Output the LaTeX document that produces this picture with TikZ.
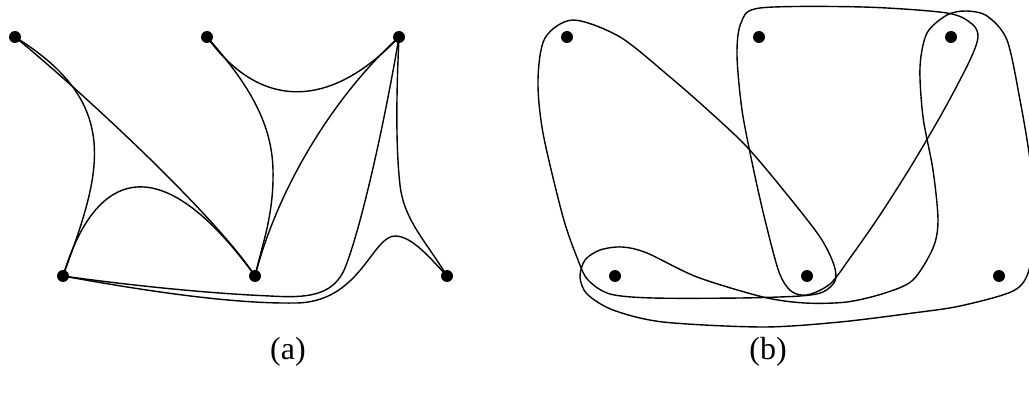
\documentclass[tikz,border=0pt]{standalone}
\usepackage{fontspec}
\setmainfont{Liberation Serif}
\begin{document}
\begin{tikzpicture}[x=1pt,y=-1pt,
  dot/.style={circle,fill=black,inner sep=0pt,minimum size=12pt},
  edge/.style={line width=1.4pt},
  lbl/.style={font=\fontsize{32}{36}\selectfont}]
\useasboundingbox (0,0) rectangle (1029,393);
% (a) vertices
\node[dot] (a1) at (15,37) {};
\node[dot] (a2) at (207,37) {};
\node[dot] (a3) at (399,37) {};
\node[dot] (b1) at (63,276) {};
\node[dot] (b2) at (255,276) {};
\node[dot] (b3) at (447,276) {};
% (a) edges
\draw[edge] (a1.center) .. controls (80,90) and (215,215) .. (b2.center);
\draw[edge] (a1.center) .. controls (125,105) and (100,175) .. (b1.center);
\draw[edge] (b1.center) .. controls (95,170) and (160,145) .. (b2.center);
\coordinate (q1) at (273,170);
\draw[edge] (a2.center) .. controls (245,80) and (272,120) .. (q1) .. controls (274,215) and (262,245) .. (b2.center);
\draw[edge] (a2.center) .. controls (260,110) and (330,110) .. (a3.center);
\draw[edge] (a3.center) .. controls (340,90) and (280,180) .. (b2.center);
\coordinate (p0) at (345,268);
\coordinate (p1) at (270,296);
\draw[edge] (a3.center) .. controls (385,120) and (362,225) .. (p0) .. controls (333,297) and (305,298) .. (p1) .. controls (200,293) and (120,284) .. (b1.center);
\coordinate (p2) at (295,303);
\coordinate (p3) at (395,236);
\draw[edge] (b1.center) .. controls (140,290) and (230,304) .. (p2) .. controls (360,303) and (372,236) .. (p3) .. controls (412,236) and (430,258) .. (b3.center);
\coordinate (p4) at (400,185);
\draw[edge] (a3.center) .. controls (396,100) and (396,150) .. (p4) .. controls (404,220) and (425,240) .. (b3.center);
% (b) vertices
\node[dot] (c1) at (567,37) {};
\node[dot] (c2) at (759,37) {};
\node[dot] (c3) at (951,37) {};
\node[dot] (d1) at (615,276) {};
\node[dot] (d2) at (807,276) {};
\node[dot] (d3) at (999,276) {};
% (b) hyperedges
\draw[edge] plot[smooth cycle] coordinates {(573,20) (620,37) (670,77) (710,112) (747,147) (785,192) (820,237) (834,265) (835,281) (823,292) (800,296) (740,298) (653,298) (610,294) (588,280) (578,260) (563,217) (543,133) (538,80) (545,38)};
\draw[edge] plot[smooth cycle] coordinates {(760,8) (863,7) (947,13) (972,24) (978,37) (970,60) (945,108) (913,163) (880,215) (850,258) (830,284) (807,295) (791,291) (779,272) (765,220) (753,167) (742,110) (737,55) (741,23)};
\draw[edge] plot[smooth cycle] coordinates {(1007,40) (1020,100) (1030,160) (1035,220) (1029,270) (1013,291) (960,306) (913,313) (840,322) (763,327) (663,322) (613,310) (587,294) (580,277) (585,260) (600,250) (622,247) (647,253) (697,277) (763,297) (805,303) (847,302) (885,293) (913,280) (933,248) (938,220) (933,170) (923,117) (920,67) (927,33) (947,15) (966,11) (987,16)};
% labels
\node[lbl] (la) at (288,352) {(a)};
\node[lbl] (lb) at (768,352) {(b)};
\end{tikzpicture}
\end{document}
